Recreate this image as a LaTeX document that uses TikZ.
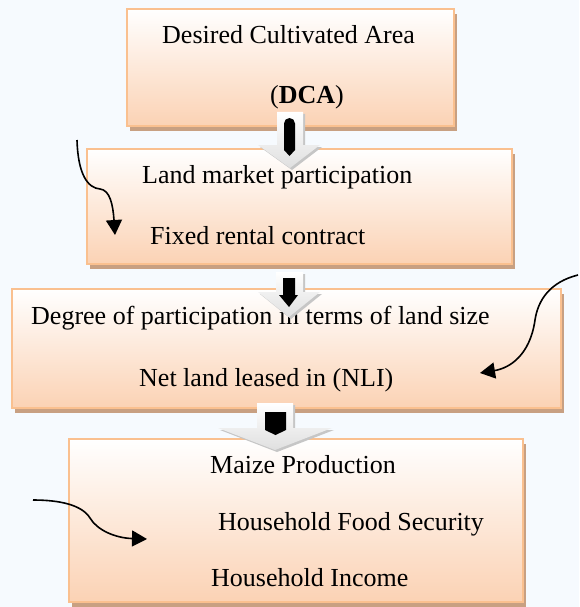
\documentclass[tikz,border=0pt]{standalone}
\usepackage{fontspec}
\setmainfont{Liberation Serif}
\usetikzlibrary{arrows.meta,shadows}
\definecolor{pagebg}{RGB}{246,250,254}
\definecolor{boxedge}{RGB}{250,192,143}
\definecolor{boxpeach}{RGB}{251,210,180}
\definecolor{shadowtan}{RGB}{200,160,130}
\tikzset{
  flowbox/.style={draw=boxedge, line width=2pt, top color=white, bottom color=boxpeach,
    inner sep=0pt, general shadow={fill=shadowtan, shadow xshift=3pt, shadow yshift=-5pt}},
  boxtext/.style={anchor=base west, inner sep=0pt, font=\fontsize{26}{31}\selectfont},
  blockarrow/.style={top color=white, bottom color=gray!25, draw=none},
  blockshade/.style={fill=gray!45},
  innerarrow/.style={fill=black},
  curvearrow/.style={line width=1.6pt, -{Triangle[length=15pt,width=16pt]}}
}

\begin{document}
\begin{tikzpicture}[x=1pt,y=-1pt]
  \path[use as bounding box, fill=pagebg] (0,0) rectangle (579,607);

  % boxes
  \node[flowbox, minimum width=327, minimum height=117] (dca) at (290.5,67.5) {};
  \node[flowbox, minimum width=425, minimum height=115] (lmp) at (299.5,206.5) {};
  \node[flowbox, minimum width=549, minimum height=119] (deg) at (286.5,348.5) {};
  \node[flowbox, minimum width=454, minimum height=163] (maize) at (296,520.5) {};

  % texts
  \node[boxtext] (dcatext) at (162,44) {Desired Cultivated Area};
  \node[boxtext] (dcaabbr) at (270,104) {(\textbf{DCA})};
  \node[boxtext] (lmptext) at (142,183) {Land market participation};
  \node[boxtext] (renttext) at (150,244) {Fixed rental contract};
  \node[boxtext] (degtext) at (31,324) {Degree of participation in terms of land size};
  \node[boxtext] (nlitext) at (139,386) {Net land leased in (NLI)};
  \node[boxtext] (maizetext) at (210,473) {Maize Production};
  \node[boxtext] (foodtext) at (218,530) {Household Food Security};
  \node[boxtext] (incometext) at (211,586) {Household Income};

  % block arrows
  \fill[blockshade] (279,114) -- (305,114) -- (305,147) -- (322,147) -- (292,170) -- (260,147) -- (279,147) -- cycle;
  \path[blockarrow] (277,112) -- (303,112) -- (303,145) -- (320,145) -- (290,168) -- (258,145) -- (277,145) -- cycle;
  \fill[innerarrow] (289.5,156) -- (284,150) {[rounded corners=5.5pt] -- (284,118) -- (295,118)} -- (295,150) -- cycle;

  \fill[blockshade] (278,274) -- (305,274) -- (305,294) -- (322,294) -- (291,319) -- (260,294) -- (278,294) -- cycle;
  \path[blockarrow] (276,272) -- (303,272) -- (303,292) -- (320,292) -- (289,317) -- (258,292) -- (276,292) -- cycle;
  \fill[innerarrow] (283,278) -- (295,278) -- (295,295) -- (298,295) -- (289,307) -- (279,295) -- (283,295) -- cycle;

  \fill[blockshade] (259,405) -- (295,405) -- (295,430) -- (334,430) -- (277,452) -- (220,430) -- (259,430) -- cycle;
  \path[blockarrow] (257,403) -- (293,403) -- (293,428) -- (332,428) -- (275,450) -- (218,428) -- (257,428) -- cycle;
  \fill[innerarrow] (265,412) -- (286,412) -- (286,430) -- (275.5,435) -- (265,430) -- cycle;

  % curved arrows
  \coordinate (rentfrom) at (77,140);
  \coordinate (rentto) at (115,235);
  \draw[curvearrow] (rentfrom) .. controls (78,175) and (88,188) .. (100,189)
    .. controls (110,190) and (113,205) .. (rentto);

  \coordinate (nlifrom) at (578,275);
  \coordinate (nlito) at (480,373);
  \draw[curvearrow] (nlifrom) .. controls (550,282) and (538,300) .. (535,320)
    .. controls (530,355) and (510,368) .. (nlito);

  \coordinate (foodfrom) at (33,500);
  \coordinate (foodto) at (147,539);
  \draw[curvearrow] (foodfrom) .. controls (60,500) and (82,505) .. (90,518)
    .. controls (97,530) and (115,538) .. (foodto);
\end{tikzpicture}
\end{document}
